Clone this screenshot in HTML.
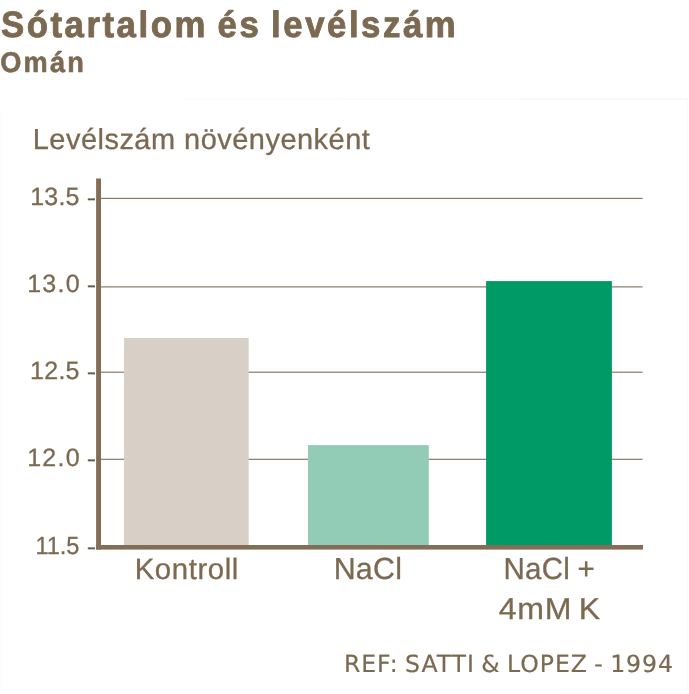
<!DOCTYPE html>
<html lang="hu">
<head>
<meta charset="utf-8">
<title>Sótartalom és levélszám</title>
<style>
html,body{margin:0;padding:0;background:#fff;}
body{width:689px;height:694px;overflow:hidden;font-family:"Liberation Sans",sans-serif;}
svg text{text-rendering:geometricPrecision;}
</style>
</head>
<body>
<svg width="689" height="694" viewBox="0 0 689 694" style="display:block">
<rect x="0" y="0" width="689" height="694" fill="#ffffff"/>
<!-- faint panel edge -->
<rect x="185" y="98.2" width="155" height="1.7" fill="#fdfdfd"/>
<rect x="340" y="98.2" width="180" height="1.7" fill="#fbfbfb"/>
<rect x="520" y="98.2" width="168.5" height="1.7" fill="#f7f7f7"/>
<rect x="686.6" y="99.9" width="1.6" height="593" fill="#fbfbfb"/>
<rect x="0.4" y="110" width="1.6" height="583" fill="#fcfcfc"/>
<rect x="560" y="692" width="128" height="1.4" fill="#fbfbfb"/>
<!-- grid lines -->
<rect x="100" y="197.85" width="542.6" height="1.1" fill="#826f5b"/>
<rect x="100" y="286.35" width="542.6" height="1.1" fill="#826f5b"/>
<rect x="100" y="371.65" width="542.6" height="1.1" fill="#826f5b"/>
<rect x="100" y="458.75" width="542.6" height="1.1" fill="#826f5b"/>
<!-- bars: Kontroll, NaCl, NaCl + 4mM K -->
<rect x="124" y="338" width="124.7" height="208" fill="#d8d0c6"/>
<rect x="308" y="445.1" width="120.8" height="101" fill="#93ccb6"/>
<rect x="486.1" y="281.1" width="125.8" height="265" fill="#009a66"/>
<!-- axes -->
<rect x="96.1" y="178.5" width="4.9" height="371" fill="#846d56"/>
<rect x="96.1" y="545" width="546.9" height="4.6" fill="#846d56"/>
<!-- text: title, subtitle, axis title, tick labels, category labels, reference, tick marks -->
<text transform="translate(0.91 37.08) scale(0.9500 1)" font-family="'Liberation Sans', sans-serif" font-weight="bold" font-size="36.62" letter-spacing="2.668" word-spacing="-2.632" fill="#7c6951" stroke="#7c6951" stroke-width="0.9" stroke-linejoin="round" vector-effect="non-scaling-stroke">Sótartalom és levélszám</text>
<text transform="translate(0.21 72.41) scale(0.9500 1)" font-family="'Liberation Sans', sans-serif" font-weight="bold" font-size="28.59" letter-spacing="2.320" word-spacing="0.000" fill="#7c6951" stroke="#7c6951" stroke-width="0.6" stroke-linejoin="round" vector-effect="non-scaling-stroke">Omán</text>
<text transform="translate(32.73 148.75) scale(1.0000 1)" font-family="'Liberation Sans', sans-serif" font-weight="normal" font-size="28.95" letter-spacing="0.500" word-spacing="0.000" fill="#7c6951" stroke="#7c6951" stroke-width="0.3" stroke-linejoin="round" vector-effect="non-scaling-stroke">Levélszám növényenként</text>
<text transform="translate(30.28 205.30) scale(1.0000 1)" font-family="'Liberation Sans', sans-serif" font-weight="normal" font-size="25.00" letter-spacing="0.183" word-spacing="0.000" fill="#7c6951" stroke="#7c6951" stroke-width="0.3" stroke-linejoin="round" vector-effect="non-scaling-stroke">13.5</text>
<text transform="translate(27.17 292.10) scale(1.0000 1)" font-family="'Liberation Sans', sans-serif" font-weight="normal" font-size="25.00" letter-spacing="1.283" word-spacing="0.000" fill="#7c6951" stroke="#7c6951" stroke-width="0.3" stroke-linejoin="round" vector-effect="non-scaling-stroke">13.0</text>
<text transform="translate(30.07 379.20) scale(1.0000 1)" font-family="'Liberation Sans', sans-serif" font-weight="normal" font-size="25.00" letter-spacing="0.250" word-spacing="0.000" fill="#7c6951" stroke="#7c6951" stroke-width="0.3" stroke-linejoin="round" vector-effect="non-scaling-stroke">12.5</text>
<text transform="translate(27.17 466.20) scale(1.0000 1)" font-family="'Liberation Sans', sans-serif" font-weight="normal" font-size="25.00" letter-spacing="1.283" word-spacing="0.000" fill="#7c6951" stroke="#7c6951" stroke-width="0.3" stroke-linejoin="round" vector-effect="non-scaling-stroke">12.0</text>
<text transform="translate(35.39 554.20) scale(0.9467 1)" font-family="'Liberation Sans', sans-serif" font-weight="normal" font-size="24.86" letter-spacing="0.000" word-spacing="0.000" fill="#7c6951" stroke="#7c6951" stroke-width="0.3" stroke-linejoin="round" vector-effect="non-scaling-stroke">11.5</text>
<text transform="translate(134.70 578.95) scale(1.0000 1)" font-family="'Liberation Sans', sans-serif" font-weight="normal" font-size="29.37" letter-spacing="0.585" word-spacing="0.000" fill="#7c6951" stroke="#7c6951" stroke-width="0.3" stroke-linejoin="round" vector-effect="non-scaling-stroke">Kontroll</text>
<text transform="translate(333.72 578.95) scale(1.0000 1)" font-family="'Liberation Sans', sans-serif" font-weight="normal" font-size="30.43" letter-spacing="0.183" word-spacing="0.000" fill="#7c6951" stroke="#7c6951" stroke-width="0.3" stroke-linejoin="round" vector-effect="non-scaling-stroke">NaCl</text>
<text transform="translate(503.48 578.95) scale(0.9718 1)" font-family="'Liberation Sans', sans-serif" font-weight="normal" font-size="30.43" letter-spacing="0.206" word-spacing="-1.029" fill="#7c6951" stroke="#7c6951" stroke-width="0.3" stroke-linejoin="round" vector-effect="non-scaling-stroke">NaCl +</text>
<text transform="translate(498.65 618.85) scale(1.0600 1)" font-family="'Liberation Sans', sans-serif" font-weight="normal" font-size="30.29" letter-spacing="0.661" word-spacing="-2.830" fill="#7c6951" stroke="#7c6951" stroke-width="0.3" stroke-linejoin="round" vector-effect="non-scaling-stroke">4mM K</text>
<text transform="translate(343.94 671.62) scale(1.0000 1)" font-family="'DejaVu Sans', sans-serif" font-weight="normal" font-size="23.59" letter-spacing="0.938" word-spacing="-2.000" fill="#7c6951" stroke="#7c6951" stroke-width="0.2" stroke-linejoin="round" vector-effect="non-scaling-stroke">REF: SATTI &amp; LOPEZ - 1994</text>
<text transform="translate(86.38 205.62) scale(1.1755 1)" font-family="'Liberation Sans', sans-serif" font-weight="normal" font-size="25.00" letter-spacing="0.000" word-spacing="0.000" fill="#655949">-</text>
<text transform="translate(86.38 292.62) scale(1.1755 1)" font-family="'Liberation Sans', sans-serif" font-weight="normal" font-size="25.00" letter-spacing="0.000" word-spacing="0.000" fill="#655949">-</text>
<text transform="translate(86.38 379.52) scale(1.1755 1)" font-family="'Liberation Sans', sans-serif" font-weight="normal" font-size="25.00" letter-spacing="0.000" word-spacing="0.000" fill="#655949">-</text>
<text transform="translate(86.38 466.52) scale(1.1755 1)" font-family="'Liberation Sans', sans-serif" font-weight="normal" font-size="25.00" letter-spacing="0.000" word-spacing="0.000" fill="#655949">-</text>
<text transform="translate(86.38 554.62) scale(1.1755 1)" font-family="'Liberation Sans', sans-serif" font-weight="normal" font-size="25.00" letter-spacing="0.000" word-spacing="0.000" fill="#655949">-</text>
</svg>
</body>
</html>
